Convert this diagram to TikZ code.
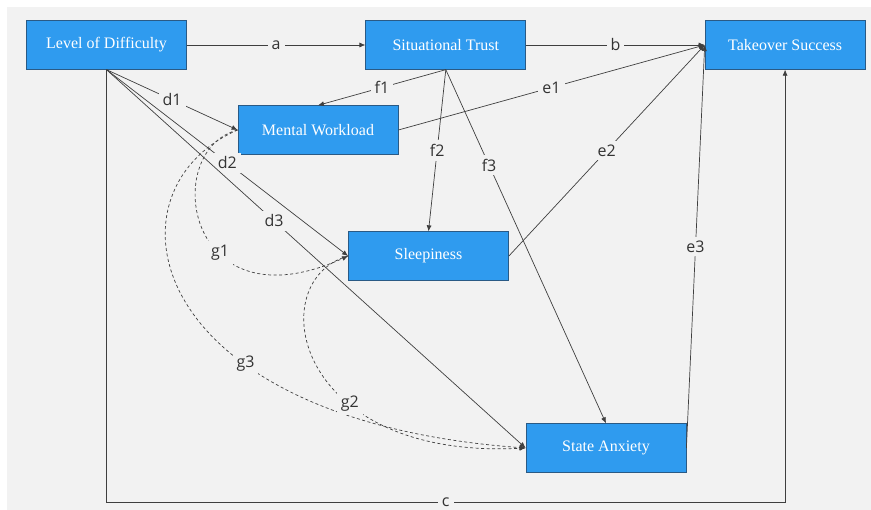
\documentclass[tikz,border=0pt]{standalone}
\usepackage{fontspec}
\setmainfont{Liberation Serif}
\newfontfamily\lblfont{Open Sans}
\usetikzlibrary{arrows.meta,positioning}
\definecolor{bgcol}{HTML}{F2F2F2}
\definecolor{boxblue}{HTML}{2F9BEF}
\definecolor{boxedge}{HTML}{2A5A85}
\definecolor{linecol}{HTML}{3F3F3F}
\definecolor{lblcol}{HTML}{333333}
\tikzstyle{var}=[rectangle,draw=boxedge,line width=0.8pt,fill=boxblue,text=white,minimum width=160pt,minimum height=48.5pt,font=\fontsize{16}{19}\selectfont]
\tikzstyle{lbl}=[fill=bgcol,inner sep=4pt,text=lblcol,font=\lblfont\fontsize{16}{19}\selectfont]
\tikzstyle{arr}=[-{Latex[length=6pt,width=5pt]},line width=0.7pt,draw=linecol]
\tikzstyle{cov}=[arr,dash pattern=on 3pt off 2.5pt]

\begin{document}
\begin{tikzpicture}[x=1pt,y=1pt]
\useasboundingbox (0,0) rectangle (871,-510);
\fill[white] (0,0) rectangle (871,-510);
\fill[bgcol] (7,-7) rectangle (871,-510);
\node[var] (lod) at (106.5,-45) {Level of Difficulty};
\node[var, right=178.5pt of lod] (st) {Situational Trust};
\node[var, right=178.5pt of st] (ts) {Takeover Success};
\node[var] (mw) at (318,-130) {Mental Workload};
\node[var] (sl) at (428.5,-256) {Sleepiness};
\node[var] (sa) at (606,-448) {State Anxiety};
\coordinate (cbase) at (0,-502);
\draw[arr] (lod) -- node[lbl]{a} (st);
\draw[arr] (st) -- node[lbl]{b} (ts);
\draw[arr] (lod.south) -- node[lbl]{d1} (mw.west);
\draw[arr] (lod.south) -- node[lbl]{d2} (sl.west);
\draw[arr] (lod.south) -- node[lbl,pos=0.4]{d3} (sa.west);
\draw[arr] (st.south) -- node[lbl]{f1} (mw.north);
\draw[arr] (st.south) -- node[lbl]{f2} (sl.north);
\draw[arr] (st.south) -- node[lbl,pos=0.27]{f3} (sa.north);
\draw[arr] (mw.east) -- node[lbl]{e1} (ts.west);
\draw[arr] (sl.east) -- node[lbl]{e2} (ts.west);
\draw[arr] (sa.east) -- node[lbl]{e3} (ts.west);
\draw[arr] (lod.south) -- (lod.south |- cbase) -- node[lbl]{c} (ts.south |- cbase) -- (ts.south);
% dashed links between the mediators
\draw[cov] (mw.west) .. controls (160,-150) and (185,-330) .. node[lbl,pos=0.62]{g1} (sl.west);
\draw[cov] (mw.west) .. controls (100,-190) and (140,-420) .. node[lbl,pos=0.66]{g3} (sa.west);
\draw[cov] (sl.west) .. controls (262,-280) and (292,-460) .. node[lbl,pos=0.645]{g2} (sa.west);
\end{tikzpicture}
\end{document}
